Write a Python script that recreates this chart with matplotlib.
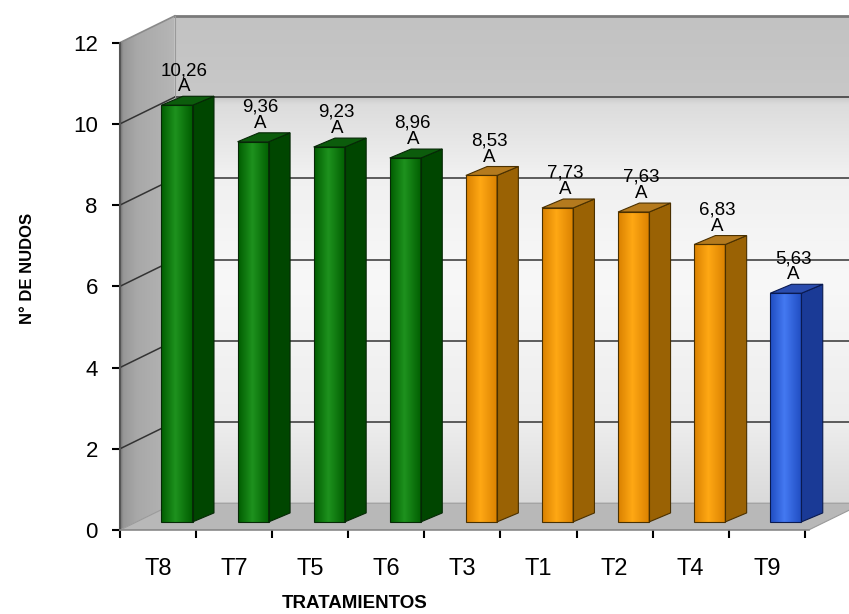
import numpy as np
import matplotlib.pyplot as plt
from matplotlib.patches import Polygon
from matplotlib.colors import to_rgb

plt.rcParams['font.family'] = ['Liberation Sans', 'DejaVu Sans']

tratamientos = ['T8', 'T7', 'T5', 'T6', 'T3', 'T1', 'T2', 'T4', 'T9']
nudos = [10.26, 9.36, 9.23, 8.96, 8.53, 7.73, 7.63, 6.83, 5.63]
letras = ['A', 'A', 'A', 'A', 'A', 'A', 'A', 'A', 'A']
grupo = ['verde', 'verde', 'verde', 'verde',
         'naranja', 'naranja', 'naranja', 'naranja', 'azul']
y_ticks = [0, 2, 4, 6, 8, 10, 12]

# (borde cara, centro cara, lateral, tapa, linea)
colores = {
    'verde': ('#005c00', '#1e921e', '#004600', '#0c5c0c', '#062806'),
    'naranja': ('#d98000', '#ffa814', '#9a6204', '#b47a1e', '#4a3000'),
    'azul': ('#1f4cc0', '#4479f2', '#1a3a96', '#2a4cae', '#0a1a50'),
}

# profundidad de la caja y de las barras (en unidades de datos)
PX, PY = 0.72, 0.66
FX, FY = 0.25, 0.20
DX, DY = 0.28, 0.22
ANCHO = 0.41
N = len(tratamientos)
XMAX = 9.58
YMAX = 13.05


def mezcla(stops, n=128):
    pos = [p for p, c in stops]
    cols = np.array([to_rgb(c) for p, c in stops])
    t = np.linspace(0, 1, n)
    return np.stack([np.interp(t, pos, cols[:, k]) for k in range(3)], axis=-1)


def relleno(ax, verts, stops, horizontal=True, z=1):
    poly = Polygon(verts, closed=True, facecolor='none', edgecolor='none')
    ax.add_patch(poly)
    xs = [p[0] for p in verts]
    ys = [p[1] for p in verts]
    g = mezcla(stops)
    img = g[np.newaxis, :, :] if horizontal else g[:, np.newaxis, :]
    im = ax.imshow(img, extent=(min(xs), max(xs), min(ys), max(ys)),
                   origin='lower', aspect='auto', interpolation='bilinear',
                   zorder=z)
    im.set_clip_path(poly)


fig = plt.figure(figsize=(8.49, 6.14), dpi=100)
ax = fig.add_axes([120 / 849, 84 / 614, 729 / 849, 530 / 614])
ax.patch.set_visible(False)

# pared del fondo
relleno(ax, [(PX, PY), (XMAX + 1, PY), (XMAX + 1, 12 + PY), (PX, 12 + PY)],
        [(0, '#dadada'), (0.15, '#ececec'), (0.45, '#f8f8f8'),
         (0.68, '#f0f0f0'), (0.82, '#dcdcdc'), (0.835, '#c8c8c8'),
         (1, '#c2c2c2')],
        horizontal=False, z=1)
# pared izquierda
relleno(ax, [(0, 0), (PX, PY), (PX, 12 + PY), (0, 12)],
        [(0, '#727272'), (0.06, '#979797'), (0.3, '#a8a8a8'), (1, '#b6b6b6')],
        horizontal=True, z=1)
# piso
ax.add_patch(Polygon([(0, 0), (9.05, 0), (9.05 + PX, PY), (PX, PY)],
                     closed=True, facecolor='#b8b8b8', edgecolor='#9a9a9a',
                     lw=0.8, zorder=1.5))

# lineas de division
for v in y_ticks[1:-1]:
    ax.plot([PX, XMAX + 1], [v + PY, v + PY], color='#333333', lw=1.1, zorder=2)
    ax.plot([0, PX], [v, v + PY], color='#333333', lw=1.1, zorder=2)
ax.plot([PX, XMAX + 1], [12 + PY, 12 + PY], color='#7a7a7a', lw=2, zorder=2)
ax.plot([0, PX], [12, 12 + PY], color='#8a8a8a', lw=1.2, zorder=2)
ax.plot([PX, PX], [PY, 12 + PY], color='#9a9a9a', lw=0.8, zorder=2)

# barras
for i, v in enumerate(nudos):
    borde, centro, lateral, tapa, linea = colores[grupo[i]]
    c = i + 0.5
    x0 = c - ANCHO / 2 + FX
    x1 = x0 + ANCHO
    y0 = FY
    y1 = FY + v
    frente = [(x0, y0), (x1, y0), (x1, y1), (x0, y1)]
    lado = [(x1, y0), (x1 + DX, y0 + DY), (x1 + DX, y1 + DY), (x1, y1)]
    arriba = [(x0, y1), (x1, y1), (x1 + DX, y1 + DY), (x0 + DX, y1 + DY)]
    relleno(ax, frente, [(0, borde), (0.45, centro), (1, borde)], z=3)
    ax.add_patch(Polygon(lado, closed=True, facecolor=lateral,
                         edgecolor=linea, lw=0.8, zorder=3))
    ax.add_patch(Polygon(arriba, closed=True, facecolor=tapa,
                         edgecolor=linea, lw=0.8, zorder=3))
    ax.add_patch(Polygon(frente, closed=True, facecolor='none',
                         edgecolor=linea, lw=0.8, zorder=3.5))
    etiqueta = f"{v:.2f}".replace('.', ',') + "\n" + letras[i]
    ax.text(c + FX + DX * 0.35, y1 + DY + 0.02, etiqueta, ha='center',
            va='bottom', fontsize=13.5, linespacing=0.95, zorder=5)

ax.set_xlim(0, XMAX)
ax.set_ylim(0, YMAX)

for s in ['top', 'right']:
    ax.spines[s].set_visible(False)
ax.spines['left'].set_bounds(0, 12)
ax.spines['left'].set_color('#555555')
ax.spines['left'].set_linewidth(1.5)
ax.spines['bottom'].set_bounds(0, 9.05)
ax.spines['bottom'].set_color('#8a8a8a')
ax.spines['bottom'].set_linewidth(1.2)

ax.set_yticks(y_ticks)
ax.tick_params(axis='y', direction='out', length=6, width=1.5, pad=10,
               labelsize=16, color='black')
ax.set_xticks(range(N + 1), labels=[''] * (N + 1))
ax.set_xticks([i + 0.5 for i in range(N)], labels=tratamientos, minor=True)
ax.tick_params(axis='x', which='major', direction='out', length=6, width=1.5,
               color='black')
ax.tick_params(axis='x', which='minor', length=0, pad=20, labelsize=17)

fig.text(28 / 849, 1 - 268 / 614, 'N° DE NUDOS', rotation=90, fontsize=12,
         fontweight='bold', ha='center', va='center')
fig.text(355 / 849, 1 - 604 / 614, 'TRATAMIENTOS', fontsize=13.5,
         fontweight='bold', ha='center', va='center')

fig.savefig('out.png', dpi=100)
